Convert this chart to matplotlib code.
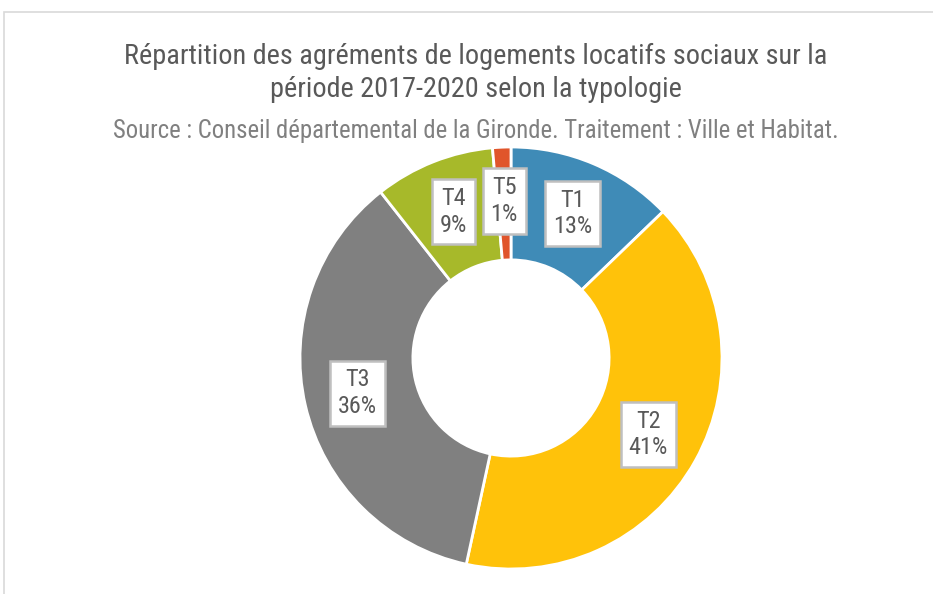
import numpy as np
import matplotlib
matplotlib.use("Agg")
import matplotlib.pyplot as plt
from matplotlib.patches import Rectangle

plt.rcParams['font.family'] = ['Roboto Condensed', 'DejaVu Sans']

# Data (shares in %)
categories = ["T1", "T2", "T3", "T4", "T5"]
shares = [12.8, 40.6, 36.0, 9.2, 1.4]
colors = ["#3F8BB7", "#FFC20A", "#808080", "#A7B92A", "#E0552B"]

title = "Répartition des agréments de logements locatifs sociaux sur la\npériode 2017-2020 selon la typologie"
subtitle = "Source : Conseil départemental de la Gironde. Traitement : Ville et Habitat."

W, H = 933, 594
fig = plt.figure(figsize=(W / 100, H / 100), dpi=100)

# light chart frame (open to the right and bottom, as cropped)
fig.patches.append(Rectangle((4 / W, -0.1), 1.2, 1 - 12 / H + 0.1,
                             transform=fig.transFigure, fill=False,
                             edgecolor="#D9D9D9", linewidth=1.2))

fig.text(0.5 + 9 / W, 1 - 73 / H, title, ha="center", va="center",
         fontsize=20.3, color="#595959", linespacing=1.25)
fig.text(0.5 + 9 / W, 1 - 131 / H, subtitle, ha="center", va="center",
         fontsize=17.8, color="#808080")

cx, cy, R = 511, 358, 211
ax = fig.add_axes([(cx - R) / W, 1 - (cy + R) / H, 2 * R / W, 2 * R / H])
wedges, _ = ax.pie(shares, colors=colors, startangle=90, counterclock=False,
                   radius=1.0, wedgeprops=dict(width=0.535, edgecolor="white",
                                               linewidth=2))
ax.set_xlim(-1, 1)
ax.set_ylim(-1, 1)
ax.set_aspect("equal")
ax.axis("off")

for w, cat, s in zip(wedges, categories, shares):
    ang = np.deg2rad((w.theta1 + w.theta2) / 2)
    r = 0.745
    ax.text(r * np.cos(ang), r * np.sin(ang), f"{cat}\n{round(s):.0f}%",
            ha="center", va="center", fontsize=17.5, color="#595959",
            linespacing=1.2,
            bbox=dict(boxstyle="square,pad=0.32", facecolor="white",
                      edgecolor="#BFBFBF", linewidth=1.8))

fig.savefig("out.png", dpi=100)
